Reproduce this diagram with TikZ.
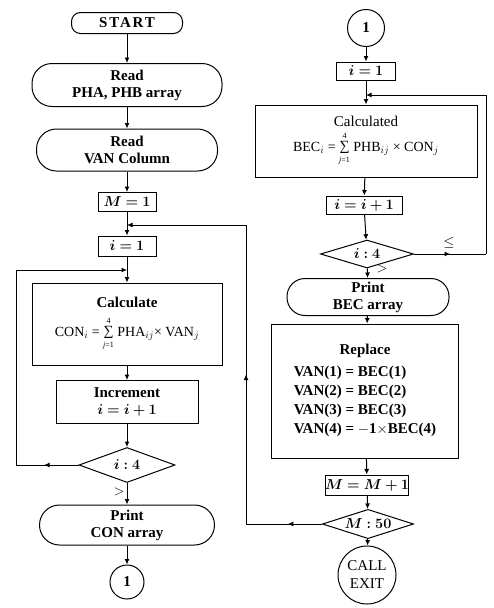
\documentclass[tikz,border=0pt]{standalone}
\usepackage{bm}
\usepackage{fontspec}
\setmainfont{Liberation Serif}
\usetikzlibrary{arrows.meta,shapes.geometric,decorations.markings}
\newcommand{\bmth}[1]{$\bm{#1}$}
\newcommand{\sumfour}{{\renewcommand{\arraystretch}{0.72}\begin{tabular}[c]{@{}c@{}}{\fontsize{8}{8}\selectfont 4}\\∑\\{\fontsize{8}{8}\selectfont\itshape j\upshape =1}\end{tabular}}}
\begin{document}
\begin{tikzpicture}[x=1pt,y=-1pt,
  line width=1pt,
  every node/.style={font=\fontsize{15}{17}\selectfont\bfseries, inner sep=0pt},
  term/.style={draw, rectangle, rounded corners=#1, align=center},
  term/.default=15pt,
  proc/.style={draw, rectangle, align=center},
  dec/.style={draw, diamond, aspect=2.8, inner sep=1pt},
  conn/.style={draw, circle, align=center},
  flow/.style={-{Latex[length=5.5pt,width=5pt]}},
  mid/.style={postaction={decorate}, decoration={markings, mark=at position #1 with {\arrow{Latex[length=5.5pt,width=5pt]}}}},
  mid/.default=0.5,
  lbl/.style={font=\fontsize{14}{16}\selectfont}
]
\useasboundingbox (0,0) rectangle (493,608);
% ---------- left column ----------
\node[term=9pt, minimum width=111pt, minimum height=21pt] (start) at (127,23) {\addfontfeature{LetterSpace=12}START};
\node[term=20pt, minimum width=190pt, minimum height=43pt] (readpha) at (127,85) {Read\\PHA, PHB array};
\node[term=20pt, minimum width=181pt, minimum height=42pt] (readvan) at (127,150) {Read\\VAN Column};
\node[proc, minimum width=58pt, minimum height=19pt] (m1) at (127,202) {\bmth{M=1}};
\node[proc, minimum width=58pt, minimum height=20pt] (i1) at (127,246) {\bmth{i=1}};
\node[proc, minimum width=190pt, minimum height=82pt] (calc) at (127,324) {Calculate\\[6pt]
  {\fontsize{14}{16}\selectfont\mdseries CON$_i$ = \sumfour\ PHA$_{ij}$× VAN$_j$}};
\node[proc, minimum width=142pt, minimum height=43pt] (incr) at (127,402) {Increment\\\bmth{i=i+1}};
\node[dec, minimum width=96pt, minimum height=35pt] (d1) at (127,465) {\bmth{i:4}};
\node[term=20pt, minimum width=175pt, minimum height=40pt] (pcon) at (127,525) {Print\\CON array};
\node[conn, minimum size=34pt] (c1) at (127,582) {1};
\coordinate (jm) at (127,225);
\coordinate (ji) at (127,270);
\coordinate (l1) at (16,465);
\coordinate (l2) at (16,270);
\node[lbl] (gt1) at (119,492) {$>$};
% ---------- right column ----------
\node[conn, minimum size=37pt] (c2) at (366,28) {1};
\node[proc, minimum width=59pt, minimum height=18pt] (ri1) at (366,71) {\bmth{i=1}};
\node[proc, minimum width=222pt, minimum height=72pt] (calcd) at (366,141) {\mdseries Calculated\\[2pt]
  {\fontsize{14}{16}\selectfont\mdseries BEC$_i$ = \sumfour\ PHB$_{ij}$ × CON$_j$}};
\node[proc, minimum width=76pt, minimum height=18pt] (rinc) at (364,205) {\bmth{i=i+1}};
\node[dec, minimum width=93pt, minimum height=28pt] (d2) at (367,254) {\bmth{i:4}};
\node[term=18pt, minimum width=162pt, minimum height=37pt] (pbec) at (368,297) {Print\\BEC array};
\node[proc, minimum width=187pt, minimum height=134pt] (repl) at (365,391) {\begin{tabular}{@{}l@{}}
  \multicolumn{1}{@{}c@{}}{Replace}\\[5pt]
  VAN(1) = BEC(1)\\[2pt]
  VAN(2) = BEC(2)\\[2pt]
  VAN(3) = BEC(3)\\[2pt]
  VAN(4) = $-$1$\times$BEC(4)
  \end{tabular}};
\node[proc, minimum width=81pt, minimum height=20pt] (mm1) at (367,485) {\bmth{M=M+1}};
\node[dec, minimum width=91pt, minimum height=28pt] (d3) at (368,524) {\bmth{M:50}};
\node[conn, minimum size=58pt, font=\fontsize{15}{18}\selectfont] (ex) at (367,575) {CALL\\EXIT};
\coordinate (jr) at (366,95);
\coordinate (r1) at (486,254);
\coordinate (r2) at (486,95);
\coordinate (b1) at (246,524);
\coordinate (b2) at (246,225);
\node[lbl] (gt2) at (382,269) {$>$};
\node[lbl] (le) at (449,243) {$\leq$};
% ---------- connectors ----------
\draw[flow] (start) -- (readpha);
\draw[flow] (readpha) -- (readvan);
\draw[flow] (readvan) -- (m1);
\draw[flow] (m1) -- (i1);
\draw[flow] (i1) -- (calc);
\draw[flow] (calc) -- (incr);
\draw[flow] (incr) -- (d1);
\draw[flow] (d1) -- (pcon);
\draw[flow] (pcon) -- (c1);
\draw[mid=0.55] (d1.west) -- (l1);
\draw (l1) -- (l2);
\draw[flow] (l2) -- (ji);
\draw[flow] (c2) -- (ri1);
\draw[flow] (ri1) -- (calcd);
\draw[flow] (calcd) -- (rinc);
\draw[flow] (rinc) -- (d2);
\draw[flow] (d2) -- (pbec);
\draw[flow] (pbec) -- (repl);
\draw[flow] (repl) -- (mm1);
\draw[flow] (mm1) -- (d3);
\draw[flow] (d3) -- (ex);
\draw[mid=0.5] (d2.east) -- (r1);
\draw (r1) -- (r2);
\draw[flow] (r2) -- (jr);
\draw[mid=0.45] (d3.west) -- (b1);
\draw[mid=0.5] (b1) -- (b2);
\draw[flow] (b2) -- (jm);
\end{tikzpicture}
\end{document}
